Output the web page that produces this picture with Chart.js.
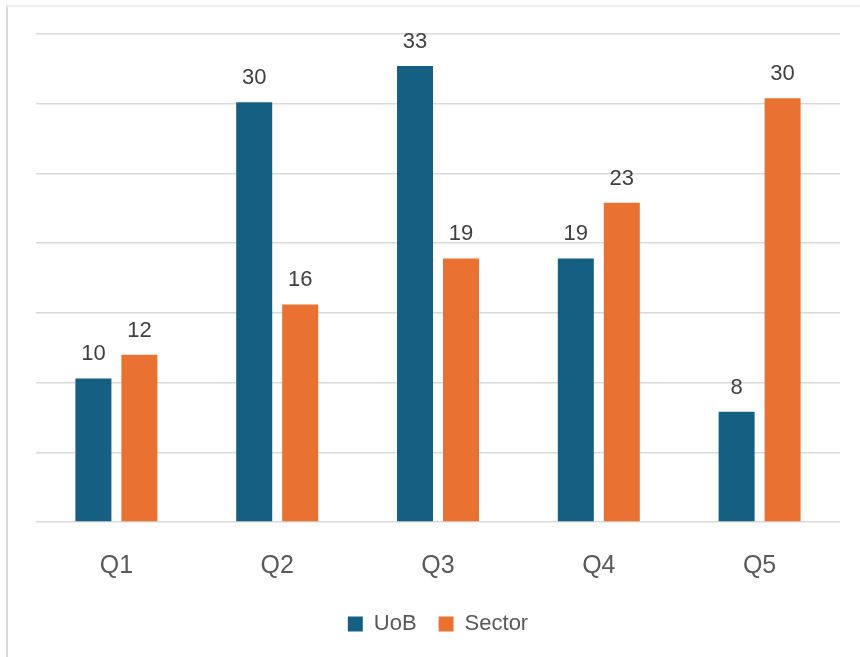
<!DOCTYPE html>
<html>
<head>
<meta charset="utf-8">
<script src="https://cdn.jsdelivr.net/npm/chart.js@4.4.1/dist/chart.umd.min.js"></script>
<style>
  html, body { margin: 0; padding: 0; background: #fff; }
  #wrap { position: relative; width: 860px; height: 657px; overflow: hidden; }
  #frame { position: absolute; left: 6px; top: 5px; width: 900px; height: 700px;
           border-left: 2px solid #d9d9d9; border-top: 2px solid #efefef; }
  #chart { position: absolute; left: 0; top: 0; }
</style>
</head>
<body>
<div id="wrap">
  <div id="frame"></div>
  <canvas id="chart" width="860" height="657"></canvas>
</div>
<script>
// Data
const categories = ['Q1', 'Q2', 'Q3', 'Q4', 'Q5'];
const uobValues = [10.3, 30.1, 32.7, 18.9, 7.9];
const sectorValues = [12.0, 15.6, 18.9, 22.9, 30.4];
const uobLabels = [10, 30, 33, 19, 8];
const sectorLabels = [12, 16, 19, 23, 30];

// draws the numbers above each bar
const valueLabels = {
    id: 'valueLabels',
    afterDatasetsDraw(chart) {
        const ctx = chart.ctx;
        ctx.save();
        ctx.font = '22px "Liberation Sans", Arial, sans-serif';
        ctx.fillStyle = '#404040';
        ctx.textAlign = 'center';
        ctx.textBaseline = 'alphabetic';
        chart.data.datasets.forEach((ds, i) => {
            const meta = chart.getDatasetMeta(i);
            meta.data.forEach((bar, j) => {
                ctx.fillText(String(ds.shownLabels[j]), bar.x, bar.y - 18);
            });
        });
        ctx.restore();
    }
};

const ctx = document.getElementById('chart').getContext('2d');
new Chart(ctx, {
    type: 'bar',
    data: {
        labels: categories,
        datasets: [
            { label: 'UoB', data: uobValues, shownLabels: uobLabels, backgroundColor: '#156082' },
            { label: 'Sector', data: sectorValues, shownLabels: sectorLabels, backgroundColor: '#E97132' }
        ]
    },
    options: {
        responsive: false,
        animation: false,
        layout: { padding: { left: 36, right: 20, top: 34, bottom: 12 } },
        datasets: { bar: { categoryPercentage: 0.572, barPercentage: 0.783 } },
        scales: {
            x: {
                grid: { display: false },
                border: { display: false },
                afterFit(scale) { scale.height = 69; },
                ticks: {
                    color: '#595959',
                    padding: 21,
                    font: { family: '"Liberation Sans", Arial, sans-serif', size: 25 }
                }
            },
            y: {
                min: 0,
                max: 35,
                ticks: { display: false, stepSize: 5 },
                border: { display: false },
                grid: { color: '#d9d9d9', lineWidth: 1.5, drawTicks: false }
            }
        },
        plugins: {
            tooltip: { enabled: false },
            legend: {
                position: 'bottom',
                labels: {
                    color: '#595959',
                    boxWidth: 15,
                    boxHeight: 15,
                    padding: 22,
                    font: { family: '"Liberation Sans", Arial, sans-serif', size: 22 }
                }
            }
        }
    },
    plugins: [valueLabels]
});
</script>
</body>
</html>
